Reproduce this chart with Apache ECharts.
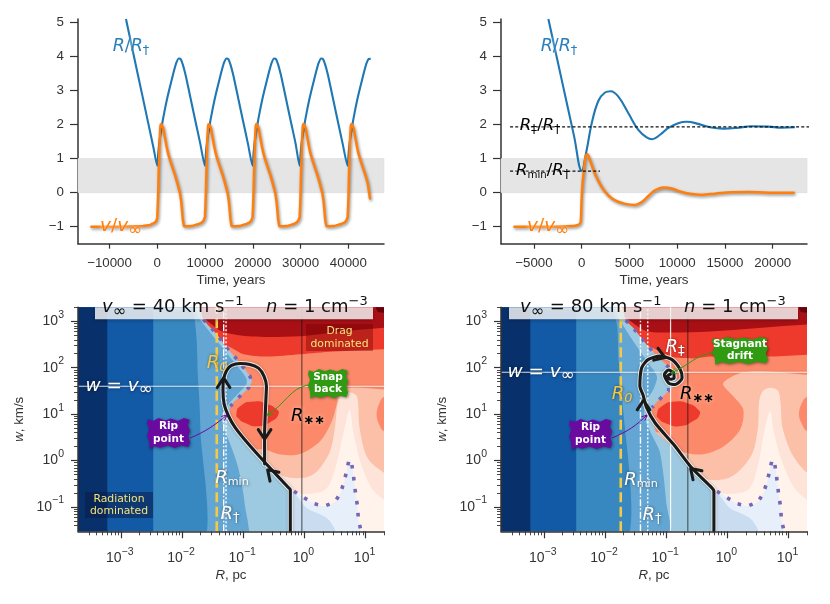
<!DOCTYPE html>
<html><head><meta charset="utf-8">
<style>html,body{margin:0;padding:0;background:#fff}#c{width:830px;height:604px}</style>
<script src="https://cdn.jsdelivr.net/npm/echarts@6/dist/echarts.min.js"></script>
</head><body><div id="c"></div>
<script>
// ---------- Top panels: [time in years, value]
const radiusLeft = [[-6555,5.1],[-4880,4],[-3200,2.9],[-1815,1.99],[-800,1.32],[0,.79],[200,1.15],[500,1.55],[1000,2],[1500,2.38],[2000,2.72],[2500,3.02],[3000,3.3],[3500,3.58],[4000,3.82],[4500,3.94],[4900,3.92],[5300,3.78],[5700,3.58],[6000,3.41],[7000,2.75],[8000,2.09],[9000,1.44],
 [9980,.79],[10180,1.15],[10480,1.55],[10980,2],[11480,2.38],[11980,2.72],[12480,3.02],[12980,3.3],[13480,3.58],[13980,3.82],[14480,3.94],[14880,3.92],[15280,3.78],[15680,3.58],[15980,3.41],[16980,2.75],[17980,2.09],[18980,1.44],
 [19960,.79],[20160,1.15],[20460,1.55],[20960,2],[21460,2.38],[21960,2.72],[22460,3.02],[22960,3.3],[23460,3.58],[23960,3.82],[24460,3.94],[24860,3.92],[25260,3.78],[25660,3.58],[25960,3.41],[26960,2.75],[27960,2.09],[28960,1.44],
 [29810,.79],[30010,1.15],[30310,1.55],[30810,2],[31310,2.38],[31810,2.72],[32310,3.02],[32810,3.3],[33310,3.58],[33810,3.82],[34310,3.94],[34710,3.92],[35110,3.78],[35510,3.58],[35810,3.41],[36810,2.75],[37810,2.09],[38810,1.44],
 [39860,.79],[40060,1.15],[40360,1.55],[40860,2],[41360,2.38],[41860,2.72],[42360,3.02],[42860,3.3],[43360,3.58],[43860,3.82],[44360,3.93],[44670,3.93]];
const velocityLeft = [[-13800,-1],[-8000,-1],[-5000,-.99],[-3000,-.98],[-1500,-.95],[-500,-.88],[-150,-.82],
 [0,-.72],[100,-.4],[200,0],[300,.6],[400,1.1],[500,1.55],[650,1.95],[800,2.03],[1000,2],[1250,1.89],[1600,1.62],[1950,1.35],[2300,1.13],[2650,.96],[3200,.73],[3700,.52],[4200,.28],[4750,-.02],[5000,-.25],[5200,-.55],[5350,-.8],[5580,-.98],[5900,-1],[6500,-.99],[7500,-.97],[8500,-.93],[9300,-.88],[9700,-.82],
 [9980,-.72],[10080,-.4],[10180,0],[10280,.6],[10380,1.1],[10480,1.55],[10630,1.95],[10780,2.03],[10980,2],[11230,1.89],[11580,1.62],[11930,1.35],[12280,1.13],[12630,.96],[13180,.73],[13680,.52],[14180,.28],[14730,-.02],[14980,-.25],[15180,-.55],[15330,-.8],[15560,-.98],[15880,-1],[16480,-.99],[17480,-.97],[18480,-.93],[19280,-.88],[19680,-.82],
 [19960,-.72],[20060,-.4],[20160,0],[20260,.6],[20360,1.1],[20460,1.55],[20610,1.95],[20760,2.03],[20960,2],[21210,1.89],[21560,1.62],[21910,1.35],[22260,1.13],[22610,.96],[23160,.73],[23660,.52],[24160,.28],[24710,-.02],[24960,-.25],[25160,-.55],[25310,-.8],[25540,-.98],[25860,-1],[26460,-.99],[27460,-.97],[28460,-.93],[29130,-.88],[29530,-.82],
 [29810,-.72],[29910,-.4],[30010,0],[30110,.6],[30210,1.1],[30310,1.55],[30460,1.95],[30610,2.03],[30810,2],[31060,1.89],[31410,1.62],[31760,1.35],[32110,1.13],[32460,.96],[33010,.73],[33510,.52],[34010,.28],[34560,-.02],[34810,-.25],[35010,-.55],[35160,-.8],[35390,-.98],[35710,-1],[36310,-.99],[37310,-.97],[38310,-.93],[39180,-.88],[39580,-.82],
 [39860,-.72],[39960,-.4],[40060,0],[40160,.6],[40260,1.1],[40360,1.55],[40510,1.95],[40660,2.03],[40860,2],[41110,1.89],[41460,1.62],[41810,1.35],[42160,1.13],[42510,.96],[43060,.73],[43560,.52],[44060,.28],[44530,-.17]];
const radiusRight = [[-3490,5.1],[-2600,3.96],[-1700,2.81],[-800,1.66],[0,.64],[520,1.25],[1050,2.04],[1750,2.7],[2440,2.94],[3040,2.98],[3840,2.82],[4890,2.33],[5930,1.84],[6800,1.62],[7400,1.57],[8200,1.7],[9080,1.9],[10100,2.04],[11000,2.08],[12200,2.02],[13430,1.92],[14830,1.88],[16200,1.9],[17800,1.95],[19540,1.94],[20950,1.91],[22340,1.92]];
const velocityRight = [[-7050,-1],[-3000,-1],[-1050,-.98],[-350,-.95],[-100,-.85],[-35,-.4],[70,.2],[210,.6],[420,1.08],[590,1.13],[870,.95],[1400,.55],[2090,.17],[2790,-.08],[3490,-.23],[4540,-.33],[5580,-.36],[6280,-.28],[6980,-.1],[7680,.07],[8550,.15],[9420,.12],[10470,.02],[11500,-.04],[12570,-.06],[13970,-.03],[15700,.01],[17450,.02],[19540,0],[22200,0]];
const bandValues = [0,1];
const refDaggerDouble = {value:1.93, from:-7500, to:24060};
const refMinimum = {value:.63, from:-7500, to:1920};
const timeTicksLeft = [-10000,0,10000,20000,30000,40000];
const timeTicksRight = [-5000,0,5000,10000,15000,20000];
const ratioTicks = [-1,0,1,2,3,4,5];

// ---------- Bottom panels: contour outlines and tracks as [log10 R, log10 w]
const paleL = [[-1.6,-.09],[-.61,-.09],[-.34,-.34],[0,-.37],[.21,-.23],[.42,.2],[.5,.71],[.54,1.2],[.6,1.4],[.72,1.47],[.85,1.4],[.88,1.2],[.9,.71],[1.03,.06],[1.31,-.27],[1.7,-.5],[1.7,3.7],[-1.6,3.7]];
const lightL = [[-1.6,-.62],[-.35,-.62],[0,-.72],[.35,-.62],[.52,-.1],[.64,.6],[.74,1.1],[.8,.6],[.92,-.05],[1.1,-.6],[1.31,-.85],[1.7,-1.1],[1.7,3.7],[-1.6,3.7]];
const salmonL = [[-1.6,.24],[-.67,.24],[-.39,.13],[-.07,.14],[.26,.42],[.45,.85],[.54,1.28],[.56,1.46],[.75,1.57],[1.31,1.53],[1.7,1.53],[1.7,3.7],[-1.6,3.7]];
const salmonEdgeL = [[1.7,1.38],[1.31,1.38],[1.23,1.25],[1.18,1],[1.22,.78],[1.31,.63],[1.7,.63]];
const blobL = [[-1.11,1.01],[-1.05,1.17],[-.83,1.27],[-.61,1.22],[-.45,1.1],[-.42,1.01],[-.53,.85],[-.75,.74],[-.97,.81],[-1.08,.91]];
const strongL = [[-1.7,2.47],[-1.27,2.47],[-.99,2.29],[-.61,2.24],[-.07,2.29],[.48,2.35],[1.31,2.4],[1.7,2.4],[1.7,3.7],[-1.7,3.7]];
const darkL = [[-1.9,3.2],[-1.62,3.04],[-1.34,2.78],[-.85,2.67],[-.07,2.68],[.48,2.76],[1.31,2.86],[1.7,2.86],[1.7,3.7],[-1.9,3.7]];
const deepL = [[1.13,3.4],[1.2,3.2],[1.31,3.18],[1.7,3.18],[1.7,3.6]];
const iceL = [[-1.2,-1.9],[-.17,-.66],[-.005,-.8],[.16,-.93],[.33,-.98],[.5,-.89],[.59,-.7],[.65,-.45],[.69,-.23],[.73,.02],[.77,-.04],[.8,-.3],[.84,-.75],[.87,-1],[.88,-1.23],[.93,-1.56],[.97,-1.9]];
const mistL = [[-.6,-1.9],[-.2,-.7],[.04,-1.02],[.37,-1.24],[.51,-1.52],[.55,-1.9]];
const skyL = [[-4,3.7],[-1.82,3.7],[-1.65,3.04],[-1.43,2.72],[-1.27,2.43],[-1.1,2.18],[-.97,1.96],[-.89,1.82],[-.86,1.7],[-.91,1.57],[-1.05,1.39],[-1.21,1.17],[-1.21,.99],[-1.16,.71],[-.94,.35],[-.61,-.09],[-.28,-.55],[-.23,-.62],[-.27,-1.9],[-4,-1.9]];
const midL = [[-4,3.7],[-1.88,3.7],[-1.76,3.15],[-1.6,2.86],[-1.38,2.5],[-1.16,2.14],[-.95,1.78],[-.95,1.64],[-1.1,1.42],[-1.27,1.17],[-1.35,.96],[-1.32,.71],[-1.21,.35],[-1.08,-.16],[-.98,-.88],[-.96,-1.9],[-4,-1.9]];
const steelL = [[-4,3.7],[-1.92,3.7],[-1.8,3.1],[-1.76,2.6],[-1.74,1.8],[-1.72,1.4],[-1.7,.71],[-1.7,-1.9],[-4,-1.9]];
const royal = [[-4,3.7],[-2.47,3.7],[-2.47,-1.9],[-4,-1.9]];
const navy = [[-4,3.7],[-3.22,3.7],[-3.22,-1.9],[-4,-1.9]];
const paleR = [[-1.6,-.09],[-.63,-.09],[-.31,-.41],[.08,-.34],[.4,.13],[.5,.71],[.52,1.28],[.58,1.5],[.7,1.57],[.83,1.5],[.87,1.21],[.9,.71],[1.06,.13],[1.31,-.27],[1.7,-.5],[1.7,3.7],[-1.6,3.7]];
const lightR = [[-1.6,-.62],[-.35,-.62],[0,-.72],[.35,-.62],[.5,-.1],[.6,.6],[.7,1.06],[.76,.6],[.9,-.05],[1.1,-.6],[1.31,-.85],[1.7,-1.1],[1.7,3.7],[-1.6,3.7]];
const salmonR = [[-1.6,.6],[-1.1,.6],[-.82,.24],[-.44,.13],[-.07,.3],[.21,.67],[.26,1.1],[.1,1.38],[-.07,1.64],[0,1.75],[.26,1.9],[.66,1.92],[1.31,1.85],[1.7,1.85],[1.7,3.7],[-1.6,3.7]];
const salmonEdgeR = [[1.7,1.38],[1.31,1.38],[1.22,1.25],[1.17,1],[1.22,.78],[1.31,.63],[1.7,.63]];
const blobR = [[-1.15,1.01],[-1.07,1.17],[-.86,1.27],[-.62,1.22],[-.48,1.1],[-.45,1],[-.56,.85],[-.78,.74],[-1,.8],[-1.12,.9]];
const strongR = [[-1.7,2.46],[-1.3,2.46],[-.93,2.24],[-.56,2.2],[-.28,2.24],[.7,2.24],[1.31,2.28],[1.7,2.28],[1.7,3.7],[-1.7,3.7]];
const darkR = [[-1.9,3.2],[-1.67,3.08],[-1.38,2.82],[-1.15,2.76],[-.28,2.78],[1.31,2.93],[1.7,2.93],[1.7,3.7],[-1.9,3.7]];
const deepR = [[1.13,3.4],[1.2,3.2],[1.31,3.18],[1.7,3.18],[1.7,3.6]];
const skyR = [[-4,3.7],[-1.82,3.7],[-1.66,3.02],[-1.54,2.86],[-1.29,2.45],[-1.04,2.11],[-.87,1.92],[-.82,1.75],[-.9,1.56],[-.96,1.5],[-1.1,1.33],[-1.23,1.14],[-1.21,.85],[-1.16,.6],[-.94,.35],[-.61,-.09],[-.28,-.55],[-.23,-.62],[-.27,-1.9],[-4,-1.9]];
const midR = [[-4,3.7],[-1.92,3.7],[-1.8,3.15],[-1.68,2.86],[-1.5,2.5],[-1.3,2.11],[-1.15,1.81],[-1.21,1.53],[-1.34,1.25],[-1.36,.95],[-1.25,.6],[-1.1,.17],[-1,-.88],[-.96,-1.9],[-4,-1.9]];
const steelR = [[-4,3.7],[-1.95,3.7],[-1.88,3.3],[-1.8,2.9],[-1.78,2.2],[-1.72,1.45],[-1.7,-1.9],[-4,-1.9]];
const zeroUpperL = [[-1.65,3.04],[-1.43,2.72],[-1.27,2.43],[-1.1,2.18],[-.97,1.96],[-.89,1.82],[-.86,1.7],[-.91,1.57],[-1.05,1.39],[-1.21,1.17]];
const zeroUpperR = [[-1.66,3.02],[-1.54,2.86],[-1.29,2.45],[-1.04,2.11],[-.95,2.0],[-.96,1.5],[-1.1,1.33],[-1.23,1.14]];
const zeroLower = [[-.17,-.66],[-.005,-.8],[.16,-.93],[.33,-.98],[.5,-.89],[.59,-.7],[.65,-.45],[.69,-.23],[.73,.02],[.77,-.04],[.8,-.3],[.84,-.75],[.87,-1],[.88,-1.23],[.93,-1.56]];
const trackL = [[-.23,-1.52],[-.23,-.63],[-.27,-.57],[-.61,-.09],[-.91,.35],[-1.13,.71],[-1.24,.96],[-1.31,1.21],[-1.33,1.5],[-1.32,1.75],[-1.27,1.94],[-1.19,2.05],[-1.05,2.09],[-.89,2.07],[-.75,1.99],[-.66,1.82],[-.62,1.6],[-.63,1.28],[-.65,.56],[-.65,-.07]];
const trackR = [[-.22,-1.52],[-.22,-.66],[-.28,-.55],[-.58,-.16],[-.88,.35],[-1.18,.81],[-1.32,1.14],[-1.38,1.42],[-1.43,1.6],[-1.4,2],[-1.29,2.18],[-1.1,2.25],[-.91,2.18],[-.77,1.96],[-.74,1.78],[-.85,1.64],[-.96,1.67],[-1.03,1.85],[-.96,1.95],[-.88,1.89],[-.87,1.78],[-.93,1.75],[-.98,1.82],[-.93,1.86]];
const arrowsL = [[-1.32,1.78,-90],[-.65,.46,90],[-.6,-.2,-135]];
const arrowsR = [[-1.37,1.3,-90],[-.6,-.17,-135],[-1.02,2.22,20]];
const radiiL = {R0:.037, Rmin:.048, Rdag:.0525, Rss:.91, vInf:40};
const radiiR = {R0:.0181, Rmin:.038, Rdag:.05, Rdd:.118, Rss:.226, vInf:80};
const radiusMajor = [1e-3,1e-2,1e-1,1e0,1e1];
const radiusMinor = [3e-4,4e-4,5e-4,6e-4,7e-4,8e-4,9e-4,2e-3,3e-3,4e-3,5e-3,6e-3,7e-3,8e-3,9e-3,.02,.03,.04,.05,.06,.07,.08,.09,.2,.3,.4,.5,.6,.7,.8,.9,2,3,4,5,6,7,8,9,20];
const speedMajor = [1e-1,1e0,1e1,1e2,1e3];
const speedMinor = [.04,.05,.06,.07,.08,.09,.2,.3,.4,.5,.6,.7,.8,.9,2,3,4,5,6,7,8,9,20,30,40,50,60,70,80,90,200,300,400,500,600,700,800,900,2000];

// ---------- Styles and layout
const C = {blue:'#1f77b4',orange:'#ff7f0e',ink:'#333',pale:'#fcc0a8',light:'#fee4d8',salmon:'#fc8a6a',strong:'#ee3a2c',dark:'#a81016',deep:'#67000d',
 ice:'#e7f0fa',mist:'#c9dcf0',sky:'#9ecae1',mid:'#63a6d3',steel:'#3787c0',royal:'#1259a6',navy:'#08306b',zero:'#7766b6',yellow:'#f6c945',green:'#2f9a12',purple:'#6a0a9e',label:'#f6e37c'};
const SANS='"Liberation Sans",Arial,sans-serif', MATH='"DejaVu Sans",sans-serif';
const G = [{l:78,t:19,h:224.7},{l:501,t:19,h:224.7},{l:78,t:307.3,h:224},{l:501,t:307.3,h:224}];
const FS = 13.3;
const log = a => a.map(([r,w])=>[Math.pow(10,r),Math.pow(10,w)]);
const minus = v => String(v).replace('-','\u2212');
const xPowerRich = {s:{fontSize:10.5,fontFamily:SANS,color:C.ink,padding:[0,2,13,0]},n:{fontSize:14,fontFamily:SANS,color:C.ink}};
const yPowerRich = {s:{fontSize:10.5,fontFamily:SANS,color:C.ink,padding:[0,0,13,0]},n:{fontSize:14,fontFamily:SANS,color:C.ink}};
const powerLabel = v => { const e=Math.round(Math.log10(v)); return '{n|10}{s|'+minus(e)+'}'; };

function linearX(i,min,max,ticks){return {gridIndex:i,type:'value',min,max,splitLine:{show:false},axisLine:{onZero:false,lineStyle:{color:C.ink,width:1.5}},
 axisTick:{customValues:ticks,length:5,lineStyle:{color:C.ink,width:1.2}},axisLabel:{customValues:ticks,formatter:minus,color:C.ink,fontSize:FS,fontFamily:SANS,margin:13},
 name:'Time, years',nameLocation:'middle',nameGap:30,nameTextStyle:{color:C.ink,fontSize:FS,fontFamily:SANS}};}
function linearY(i){return {gridIndex:i,type:'value',min:-1.5,max:5.1,splitLine:{show:false},axisLine:{onZero:false,lineStyle:{color:C.ink,width:1.5}},
 axisTick:{customValues:ratioTicks,length:8,lineStyle:{color:C.ink,width:1.2}},axisLabel:{customValues:ratioTicks,formatter:minus,color:C.ink,fontSize:FS,fontFamily:SANS,margin:14}};}
const axisFont={color:C.ink,fontSize:FS,fontFamily:SANS,rich:{i:{fontStyle:'italic',fontSize:FS,fontFamily:SANS,color:C.ink},r:{fontSize:FS,fontFamily:SANS,color:C.ink}}};
function logAxis(i,min,max,major,extra,margin,rich){return Object.assign({gridIndex:i,type:'log',logBase:10,min,max,z:10,splitLine:{show:false},minorTick:{show:false},minorSplitLine:{show:false},
 axisLine:{onZero:false,lineStyle:{color:C.ink,width:1.5}},axisTick:{customValues:major,length:7,lineStyle:{color:C.ink,width:1.2}},
 axisLabel:{customValues:major,formatter:powerLabel,rich,margin}},extra);}
function minorAxis(i,min,max,minor,pos){return {gridIndex:i,type:'log',logBase:10,min,max,z:10,position:pos,splitLine:{show:false},minorTick:{show:false},
 axisLine:{show:false,onZero:false},axisTick:{customValues:minor,length:4,lineStyle:{color:C.ink,width:.9}},axisLabel:{show:false}};}

const xAxis=[linearX(0,-16600,47470,timeTicksLeft),linearX(1,-8450,23590,timeTicksRight),
 logAxis(2,2e-4,20,radiusMajor,{name:'{i|R}{r|, pc}',nameLocation:'middle',nameGap:38,nameTextStyle:axisFont},15,xPowerRich),
 logAxis(3,2e-4,20,radiusMajor,{name:'{i|R}{r|, pc}',nameLocation:'middle',nameGap:38,nameTextStyle:axisFont},15,xPowerRich),
 minorAxis(2,2e-4,20,radiusMinor,'bottom'),minorAxis(3,2e-4,20,radiusMinor,'bottom')];
const yAxis=[linearY(0),linearY(1),
 logAxis(2,.03,2000,speedMajor,{name:'{i|w}{r|, km/s}',nameLocation:'middle',nameGap:52,nameTextStyle:axisFont},14,yPowerRich),
 logAxis(3,.03,2000,speedMajor,{name:'{i|w}{r|, km/s}',nameLocation:'middle',nameGap:52,nameTextStyle:axisFont},14,yPowerRich),
 minorAxis(2,.03,2000,speedMinor,'left'),minorAxis(3,.03,2000,speedMinor,'left')];

const series=[];
function line(ax,data,style,extra){series.push(Object.assign({type:'line',xAxisIndex:ax,yAxisIndex:ax,data,showSymbol:false,symbol:'none',silent:true,animation:false,lineStyle:style},extra));}
function contours(ax,layers){series.push({type:'custom',xAxisIndex:ax,yAxisIndex:ax,silent:true,animation:false,clip:true,z:1,encode:{x:0,y:1},
 data:layers.map((l,i)=>[1,1,i]),
 renderItem:(p,api)=>{const l=layers[api.value(2)];return {type:'polygon',shape:{points:log(l[0]).map(q=>api.coord(q)),smooth:l[2]},style:{fill:l[1]}};}});}
function arrows(ax,list){series.push({type:'custom',xAxisIndex:ax,yAxisIndex:ax,silent:true,animation:false,clip:false,z:7,encode:{x:0,y:1},
 data:log(list).map((q,i)=>[q[0],q[1],list[i][2]]),
 renderItem:(p,api)=>{const c=api.coord([api.value(0),api.value(1)]),a=api.value(2)*Math.PI/180,L=11.5,s=.58;
  const pt=d=>[c[0]-L*Math.cos(a+d),c[1]-L*Math.sin(a+d)];
  return {type:'polyline',shape:{points:[pt(s),c,pt(-s)]},style:{stroke:'#1a1a1a',lineWidth:3,fill:null,lineCap:'round',lineJoin:'round'}};}});}
const bandArea={silent:true,animation:false,itemStyle:{color:'#e5e5e5',borderColor:'#dcdcdc',borderWidth:.6},data:[[{yAxis:bandValues[0]},{yAxis:bandValues[1]}]]};
const orangeStyle={color:C.orange,width:2.5,cap:'round',shadowColor:'rgba(0,0,0,.45)',shadowBlur:3,shadowOffsetX:1,shadowOffsetY:1.5};

// top left
line(0,radiusLeft,{color:C.blue,width:2.1},{z:3,smooth:.25,markArea:bandArea});
line(0,velocityLeft,orangeStyle,{z:4});
// top right
line(1,radiusRight,{color:C.blue,width:2.1},{z:3,smooth:.4,markArea:bandArea});
line(1,velocityRight,orangeStyle,{z:4,smooth:.35});
line(1,[[refDaggerDouble.from,refDaggerDouble.value],[refDaggerDouble.to,refDaggerDouble.value]],{color:'#111',width:1.2,type:[3,2.2]},{z:5,clip:false});
line(1,[[refMinimum.from,refMinimum.value],[refMinimum.to,refMinimum.value]],{color:'#111',width:1.2,type:[3,2.2]},{z:5,clip:false});

// bottom panels
function panel(ax,layers,zeroUpper,track,arr,r){
 contours(ax,layers);
 line(ax,log(zeroUpper),{color:C.zero,width:3.6,type:[3.6,8.5]},{z:3});
 line(ax,log(zeroLower),{color:C.zero,width:3.6,type:[3.6,8.5]},{z:3});
 const vert=(v,st)=>line(ax,[[v,.03],[v,2000]],st,{z:4});
 vert(r.R0,{color:C.yellow,width:2.6,type:[10,4.5]});
 vert(r.Rmin,{color:'#fff',width:1.4,type:[7,2,1.5,2]});
 vert(r.Rdag,{color:'#fff',width:1.4,type:[2,2]});
 if(r.Rdd) vert(r.Rdd,{color:'rgba(255,255,255,.9)',width:1.2});
 vert(r.Rss,{color:'rgba(25,25,25,.85)',width:.9});
 line(ax,[[2e-4,r.vInf],[ax==3?25:20,r.vInf]],{color:'rgba(255,255,255,.85)',width:1.1,shadowColor:'rgba(0,0,0,.25)',shadowBlur:3},{z:4,clip:false});
 line(ax,log(track),{color:'rgba(255,255,255,.8)',width:5,cap:'round',join:'round',shadowColor:'rgba(0,0,0,.3)',shadowBlur:3},{z:5,smooth:.25});
 line(ax,log(track),{color:'#1a1a1a',width:3.1,cap:'round',join:'round'},{z:6,smooth:.25});
 arrows(ax,arr);
}
panel(2,[[lightL,C.light,.3],[paleL,C.pale,.3],[salmonL,C.salmon,.3],[salmonEdgeL,C.salmon,.4],[blobL,C.strong,.6],[strongL,C.strong,.3],[darkL,C.dark,.3],[deepL,C.deep,0],
 [iceL,C.ice,.15],[mistL,C.mist,.3],[skyL,C.sky,.15],[midL,C.mid,.25],[steelL,C.steel,.25],[royal,C.royal,0],[navy,C.navy,0]],zeroUpperL,trackL,arrowsL,radiiL);
panel(3,[[lightR,C.light,.3],[paleR,C.pale,.3],[salmonR,C.salmon,.3],[salmonEdgeR,C.salmon,.4],[blobR,C.strong,.6],[strongR,C.strong,.3],[darkR,C.dark,.3],[deepR,C.deep,0],
 [iceL,C.ice,.15],[mistL,C.mist,.3],[skyR,C.sky,.15],[midR,C.mid,.25],[steelR,C.steel,.25],[royal,C.royal,0],[navy,C.navy,0]],zeroUpperR,trackR,arrowsR,radiiR);

// ---------- Annotations
const richFor = (size) => {const f={fontFamily:MATH};return {
 i:Object.assign({fontStyle:'italic',fontSize:size},f), n:Object.assign({fontSize:size},f),
 sub:Object.assign({fontSize:size*.74,padding:[size*.5,0,0,0]},f), small:Object.assign({fontSize:size*.62,padding:[size*.5,0,0,0]},f), isub:Object.assign({fontStyle:'italic',fontSize:size*.72,padding:[size*.5,0,0,0]},f),
 inf:Object.assign({fontSize:size*.9,padding:[size*.45,0,0,0]},f),
 bsub:Object.assign({fontSize:size*.72,fontWeight:'bold',padding:[size*.5,0,0,0]},f), sup:Object.assign({fontSize:size*.72,padding:[0,0,size*.65,0]},f)};};
function tx(x,y,text,size,fill,o){return {type:'text',z:100,silent:true,style:Object.assign({x,y,text,rich:richFor(size),fill,align:'center',verticalAlign:'middle',fontFamily:MATH,fontSize:size},o||{})};}
const halo={textShadowColor:'rgba(255,255,255,.95)',textShadowBlur:4};
const darkHalo={textShadowColor:'rgba(0,0,0,.55)',textShadowBlur:3,textShadowOffsetX:.5,textShadowOffsetY:.5};
const wobble=[[.02,.04],[.14,.1],[.27,0],[.42,.08],[.55,.02],[.72,.09],[.86,0],[.99,.06],[.95,.24],[1,.42],[.96,.6],[1,.82],[.96,.97],[.8,.92],[.64,1],[.48,.92],[.3,.99],[.16,.93],[.06,1.03],[.05,.78],[.0,.58],[.05,.36],[0,.18]];
function tag(x0,y0,w,h,color,lines){
 return [{type:'polygon',z:90,silent:true,shape:{points:wobble.map(p=>[x0+p[0]*w,y0+p[1]*h])},style:{fill:color,shadowColor:'rgba(0,0,0,.45)',shadowBlur:3,shadowOffsetX:1,shadowOffsetY:1}},
  {type:'text',z:100,silent:true,style:{x:x0+w/2,y:y0+h/2,text:lines,align:'center',verticalAlign:'middle',fill:'#fff',fontFamily:MATH,fontWeight:'bold',fontSize:10.5,lineHeight:12.5}}];}
function pointer(x1,y1,cx1,cy1,cx2,cy2,x2,y2,color){const a=Math.atan2(y2-cy2,x2-cx2),L=6;
 return [{type:'bezierCurve',z:88,silent:true,shape:{x1,y1,cpx1:cx1,cpy1:cy1,cpx2:cx2,cpy2:cy2,x2,y2},style:{stroke:color,lineWidth:1,fill:null}},
  {type:'polyline',z:88,silent:true,shape:{points:[[x2-L*Math.cos(a+.45),y2-L*Math.sin(a+.45)],[x2,y2],[x2-L*Math.cos(a-.45),y2-L*Math.sin(a-.45)]]},style:{stroke:color,lineWidth:1,fill:null}}];}
function caption(x,y,w,h,fill,lines){return [{type:'rect',z:85,silent:true,shape:{x,y,width:w,height:h},style:{fill}},
  {type:'text',z:100,silent:true,style:{x:x+w/2,y:y+h/2,text:lines,align:'center',verticalAlign:'middle',fill:C.label,fontFamily:MATH,fontWeight:500,fontSize:10.8,lineHeight:12.5}}];}
function banner(x,w,a,b,tx1,tx2){return [{type:'rect',z:80,silent:true,shape:{x,y:307.3,width:w,height:12},style:{fill:'rgba(255,255,255,.8)',shadowColor:'rgba(0,0,0,.3)',shadowBlur:3,shadowOffsetY:2}},
  tx(tx1,307.5,a,18,'#111',{align:'left'}),tx(tx2,307.5,b,18,'#111',{align:'left'})];}

const graphic=[
 tx(131,46,'{i|R}{n|/}{i|R}{sub|†}',17.5,'#2a7fba',halo),
 tx(121,226.5,'{i|v}{n|/}{i|v}{inf|∞}',18.5,C.orange,halo),
 tx(559,46,'{i|R}{n|/}{i|R}{sub|†}',17.5,'#2a7fba',halo),
 tx(548,226.5,'{i|v}{n|/}{i|v}{inf|∞}',18.5,C.orange,halo),
 tx(540,126,'{i|R}{sub|‡}{n|/}{i|R}{sub|†}',16.5,'#000',halo),
 tx(543,171,'{i|R}{small|min}{n|/}{i|R}{sub|†}',16.5,'#000',halo),
 ...banner(95,278,'{i|v}{inf|∞}{n| = 40 km s}{sup|−1}','{i|n}{n| = 1 cm}{sup|−3}',102,266),
 ...banner(509,289,'{i|v}{inf|∞}{n| = 80 km s}{sup|−1}','{i|n}{n| = 1 cm}{sup|−3}',520,684),
 tx(217,363,'{i|R}{isub|0}',18,C.yellow,darkHalo),
 tx(232,478,'{i|R}{small|min}',18,'#fff',darkHalo),
 tx(230,514,'{i|R}{sub|†}',18,'#fff',darkHalo),
 tx(119,386,'{i|w}{n| = }{i|v}{inf|∞}',18.5,'#fff',darkHalo),
 tx(308,416,'{i|R}{bsub|∗∗}',18,'#000',{textShadowColor:'rgba(255,200,180,.9)',textShadowBlur:4}),
 tx(622,394,'{i|R}{isub|0}',18,C.yellow,darkHalo),
 tx(641,480,'{i|R}{small|min}',18,'#fff',darkHalo),
 tx(652,515,'{i|R}{sub|†}',18,'#fff',darkHalo),
 tx(541,372,'{i|w}{n| = }{i|v}{inf|∞}',18.5,'#fff',darkHalo),
 tx(675,347,'{i|R}{sub|‡}',18,'#fff',darkHalo),
 tx(697,394,'{i|R}{bsub|∗∗}',18,'#000',{textShadowColor:'rgba(255,200,180,.9)',textShadowBlur:4}),
 ...caption(306,324,67,27,'rgba(110,0,0,.4)','Drag\ndominated'),
 ...caption(85,492,68,26,'rgba(10,30,70,.55)','Radiation\ndominated'),
 ...pointer(190,438,205,432,215,425,227,415,C.purple),
 ...pointer(612,438,627,432,637,425,647,415,C.purple),
 ...pointer(308,385,290,388,285,405,267,415,C.green),
 ...pointer(713,353,695,355,690,365,671,373,C.green),
 ...tag(147,418,43,30,C.purple,'Rip\npoint'),
 ...tag(569,419,43,30,C.purple,'Rip\npoint'),
 ...tag(308,369,40,29,C.green,'Snap\nback'),
 ...tag(712,337,56,27,C.green,'Stagnant\ndrift')
];

const chart=echarts.init(document.getElementById('c'),null,{width:830,height:604,renderer:'canvas'});
chart.setOption({animation:false,backgroundColor:'#fff',
 grid:G.map((g,i)=>({left:g.l,top:g.t,width:306,height:g.h,containLabel:false,show:i>1,backgroundColor:'#fff3ec',borderWidth:0})),
 xAxis,yAxis,series,graphic});
</script></body></html>
